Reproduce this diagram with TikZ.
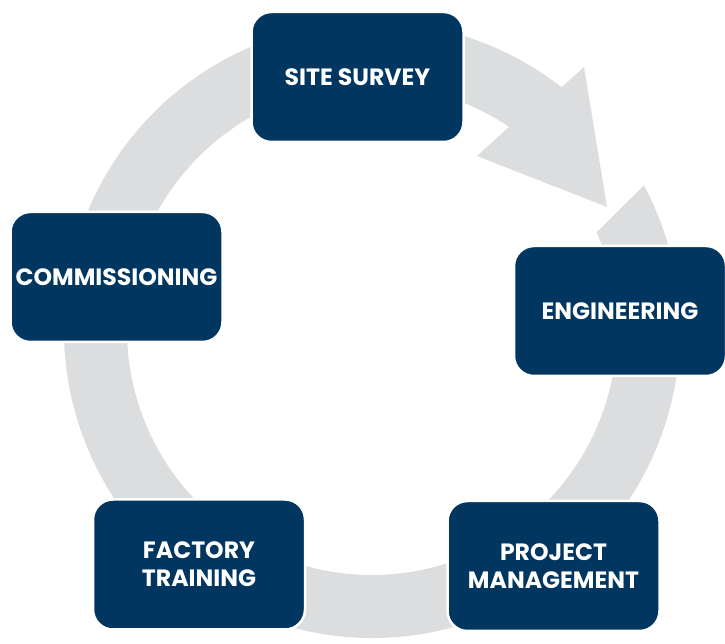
\documentclass[tikz,border=0pt]{standalone}
\usepackage{fontspec}
\setmainfont{Poppins}
\definecolor{ringgray}{RGB}{220,221,223}
\definecolor{navy}{RGB}{0,54,96}
\tikzset{
  stage/.style={fill=navy, draw=white, line width=2.5pt, rounded corners=20pt,
    minimum width=212pt, minimum height=130pt, text=white, inner sep=0pt,
    font=\fontsize{23.6}{28}\selectfont\bfseries, align=center}
}

\begin{document}
\begin{tikzpicture}[x=1pt, y=1pt]
\useasboundingbox (0,0) rectangle (725,644);
%% 회색 원형 화살표
\begin{scope}[shift={(372,314)}]
\fill[ringgray] (28:308) arc[start angle=28, end angle=-308, radius=308]
  -- (212,263) -- (235,123) -- (105,174) -- (56:245)
  arc[start angle=-304, end angle=23.5, radius=245] -- cycle;
\end{scope}
%% 단계 상자
\node[stage] (survey) at (357.5,567) {SITE SURVEY};
\node[stage] (engineering) at (620,333) {ENGINEERING};
\node[stage] (project) at (553.5,78) {PROJECT\\MANAGEMENT};
\node[stage] (factory) at (199,79.5) {FACTORY\\TRAINING};
\node[stage] (commission) at (116.5,367) {COMMISSIONING};
\end{tikzpicture}
\end{document}
